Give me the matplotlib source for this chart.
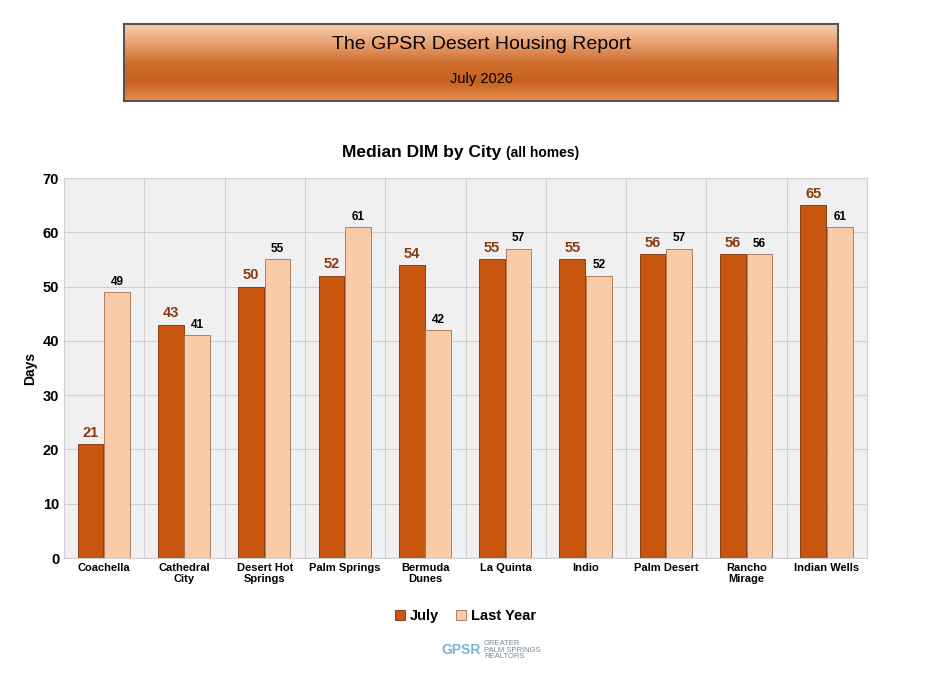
import matplotlib
matplotlib.use("Agg")
import matplotlib.pyplot as plt
import numpy as np

plt.rcParams["font.family"] = ["Liberation Sans", "DejaVu Sans"]

cities = ["Coachella", "Cathedral\nCity", "Desert Hot\nSprings", "Palm Springs",
          "Bermuda\nDunes", "La Quinta", "Indio", "Palm Desert", "Rancho\nMirage",
          "Indian Wells"]
july = [21, 43, 50, 52, 54, 55, 55, 56, 56, 65]
last_year = [49, 41, 55, 61, 42, 57, 52, 57, 56, 61]

DARK = "#c8560f"
LIGHT = "#f9cba6"
LBL = "#8a3a10"

fig = plt.figure(figsize=(9.49, 6.79), dpi=100)
fig.patch.set_facecolor("white")

# banner
bax = fig.add_axes([124 / 949, 1 - 101 / 679, 714 / 949, 77 / 679])
grad = np.linspace(0, 1, 100)[:, None]
cm = matplotlib.colors.LinearSegmentedColormap.from_list(
    "b", ["#f6d0b0", "#e8a070", "#d07030", "#c86020", "#e59050"])
bax.imshow(grad, aspect="auto", cmap=cm, extent=[0, 1, 0, 1])
bax.set_xticks([]); bax.set_yticks([])
for s in bax.spines.values():
    s.set_color("#555"); s.set_linewidth(1.5)
bax.text(0.5, 0.74, "The GPSR Desert Housing Report", ha="center", va="center",
         fontsize=14, transform=bax.transAxes)
bax.text(0.5, 0.28, "July 2026", ha="center", va="center", fontsize=10.5,
         transform=bax.transAxes)

ax = fig.add_axes([64 / 949, 1 - 558 / 679, 803 / 949, 380 / 679])
ax.set_facecolor("#f0f0f0")
x = np.arange(len(cities))
w = 0.32
b1 = ax.bar(x - 0.17, july, w, color=DARK, edgecolor="#7a3008", lw=0.6, zorder=3,
            label="July")
b2 = ax.bar(x + 0.16, last_year, w, color=LIGHT, edgecolor="#a07050", lw=0.6, zorder=3,
            label="Last Year")
for r, v in zip(b1, july):
    ax.text(r.get_x() + r.get_width() / 2, v + 0.8, str(v), ha="center", va="bottom",
            fontsize=10.5, fontweight="bold", color=LBL)
for r, v in zip(b2, last_year):
    ax.text(r.get_x() + r.get_width() / 2, v + 0.8, str(v), ha="center", va="bottom",
            fontsize=8.5, fontweight="bold", color="black")
ax.set_xlim(-0.5, len(cities) - 0.5)
ax.set_ylim(0, 70)
ax.set_yticks(range(0, 71, 10))
ax.set_xticks(x)
ax.set_xticklabels(cities, fontsize=8, fontweight="bold")
ax.tick_params(axis="y", labelsize=10.5, length=0)
for t in ax.get_yticklabels():
    t.set_fontweight("bold")
ax.tick_params(axis="x", which="both", length=0)
ax.set_xticks(np.arange(-0.5, len(cities)), minor=True)
ax.grid(True, axis="y", color="#d0d0d0", lw=0.8, zorder=0)
ax.grid(True, axis="x", which="minor", color="#d0d0d0", lw=0.8, zorder=0)
for s in ax.spines.values():
    s.set_color("#d0d0d0")
ax.set_ylabel("Days", fontsize=10, fontweight="bold")
fig.text(0.528, 1 - 153 / 679, "Median DIM by City", ha="right", va="center",
         fontsize=12.5, fontweight="bold")
fig.text(0.533, 1 - 153 / 679, "(all homes)", ha="left", va="center",
         fontsize=10, fontweight="bold")
ax.legend(loc="upper center", bbox_to_anchor=(0.5, -0.1), ncol=2, frameon=False,
          prop={"weight": "bold", "size": 10.5}, handlelength=0.7, columnspacing=1.2,
          handletextpad=0.3)

fig.text(0.507, 1 - 650 / 679, "GPSR", ha="right", va="center", fontsize=10,
         color="#7ab3d6", fontweight="bold")
fig.text(0.51, 1 - 650 / 679, "GREATER\nPALM SPRINGS\nREALTORS", ha="left",
         va="center", fontsize=5.5, color="#7a8a9a", linespacing=0.9)

fig.savefig("out.png", dpi=100)
